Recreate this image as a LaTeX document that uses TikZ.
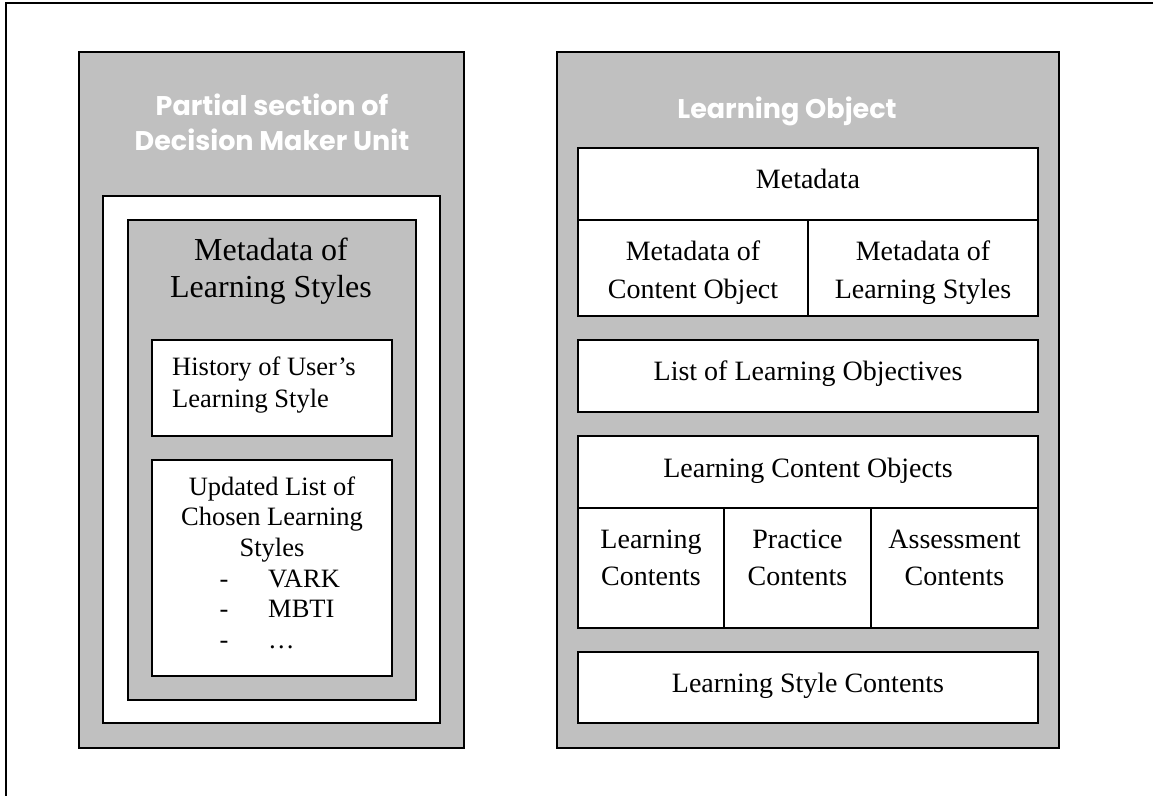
\documentclass[tikz,border=0pt]{standalone}
\usepackage{fontspec}
\setmainfont{Liberation Serif}
\newfontfamily\titlefont{Poppins}
\definecolor{panelgray}{HTML}{C0C0C0}
\tikzset{
  gbox/.style={draw=black, fill=panelgray, line width=1.6pt, inner sep=0pt},
  wbox/.style={draw=black, fill=white, line width=1.6pt, inner sep=0pt},
  lbl/.style={inner sep=0pt, align=center, font=\fontsize{28}{38}\selectfont},
  ttl/.style={inner sep=0pt, align=center, text=white, font=\titlefont\bfseries\fontsize{27}{35}\selectfont},
}
\begin{document}
\begin{tikzpicture}[x=1pt, y=-1pt]
\useasboundingbox (0,0) rectangle (1158,796);
% outer frame (top and left edges only)
\coordinate (frTR) at (1153,3);
\coordinate (frTL) at (6,3);
\coordinate (frBL) at (6,796);
\draw[line width=2.2pt] (frTR) -- (frTL) -- (frBL);

% ---------- left panel ----------
\node[gbox, minimum width=385pt, minimum height=696pt] (lpanel) at (271.5,400) {};
\node[wbox, minimum width=337pt, minimum height=527pt] (lwhite) at (271.5,459.5) {};
\node[gbox, minimum width=288pt, minimum height=480pt] (lgray) at (272,460) {};
\node[wbox, minimum width=240pt, minimum height=96pt] (hist) at (272,388) {};
\node[wbox, minimum width=240pt, minimum height=216pt] (upd) at (272,568) {};

\node[ttl, anchor=base] (ltitle) at (272,150) {Partial section of\\Decision Maker Unit};
\node[lbl, anchor=base, font=\fontsize{32}{37}\selectfont] (lmeta) at (271,297) {Metadata of\\Learning Styles};
\node[lbl, align=left, anchor=base west, font=\fontsize{26.5}{32}\selectfont] (histtxt) at (172,407) {History of User’s\\Learning Style};
\node[lbl, anchor=base, font=\fontsize{26.5}{30.5}\selectfont] (updtxt) at (272,556) {Updated List of\\Chosen Learning\\Styles};
\node[inner sep=0pt, anchor=base west, font=\fontsize{26.5}{30.5}\selectfont] (updlist) at (219.5,648)
  {\begin{tabular}[b]{@{}c@{\hspace{39.7pt}}l@{}}-&VARK\\-&MBTI\\-&…\end{tabular}};

% ---------- right panel ----------
\node[gbox, minimum width=502pt, minimum height=696pt] (rpanel) at (808,400) {};
\node[wbox, minimum width=460pt, minimum height=72pt] (mdtop) at (808,184) {};
\node[wbox, minimum width=230pt, minimum height=96pt] (mdl) at (693,268) {};
\node[wbox, minimum width=230pt, minimum height=96pt] (mdr) at (923,268) {};
\node[wbox, minimum width=460pt, minimum height=72pt] (llo) at (808,376) {};
\node[wbox, minimum width=460pt, minimum height=72pt] (lco) at (808,472) {};
\node[wbox, minimum width=146pt, minimum height=120pt] (lc1) at (651,568) {};
\node[wbox, minimum width=147pt, minimum height=120pt] (lc2) at (797.5,568) {};
\node[wbox, minimum width=167pt, minimum height=120pt] (lc3) at (954.5,568) {};
\node[wbox, minimum width=460pt, minimum height=71pt] (lsc) at (808,687.5) {};

\node[ttl, anchor=base] (rtitle) at (787,118) {Learning Object};
\node[lbl, anchor=base] (mdtoptxt) at (808,188) {Metadata};
\node[lbl, anchor=base] (mdltxt) at (693,298) {Metadata of\\Content Object};
\node[lbl, anchor=base] (mdrtxt) at (923,298) {Metadata of\\Learning Styles};
\node[lbl, anchor=base] (llotxt) at (808,380) {List of Learning Objectives};
\node[lbl, anchor=base] (lcotxt) at (808,477) {Learning Content Objects};
\node[lbl, anchor=base, font=\fontsize{28}{37}\selectfont] (lc1txt) at (651,585) {Learning\\Contents};
\node[lbl, anchor=base, font=\fontsize{28}{37}\selectfont] (lc2txt) at (797.5,585) {Practice\\Contents};
\node[lbl, anchor=base, font=\fontsize{28}{37}\selectfont] (lc3txt) at (954.5,585) {Assessment\\Contents};
\node[lbl, anchor=base] (lsctxt) at (808,692) {Learning Style Contents};
\end{tikzpicture}
\end{document}
